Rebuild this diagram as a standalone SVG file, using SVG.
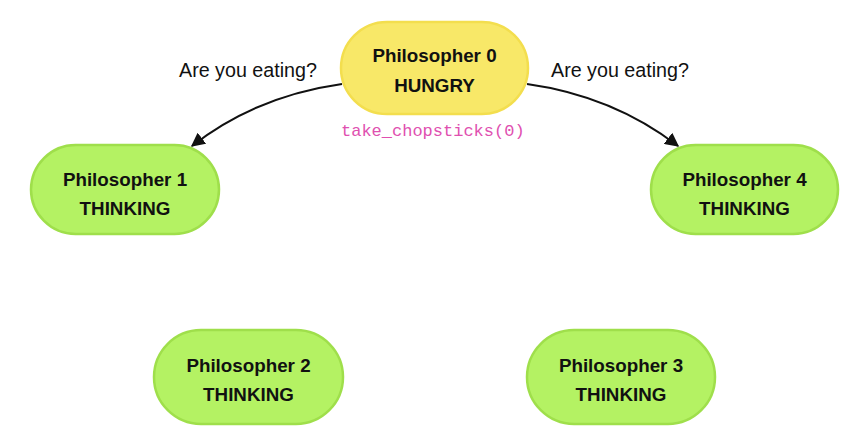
<svg xmlns="http://www.w3.org/2000/svg" width="854" height="443" viewBox="0 0 854 443">
<style>
.node rect{stroke-width:2.5}
.yellow rect{fill:#F8E868;stroke:#F3DE4E}
.green rect{fill:#B4F263;stroke:#9FDF4B}
.nt{font-family:"Liberation Sans",Arial,sans-serif;font-weight:bold;font-size:18.8px;fill:#111;text-anchor:middle}
.lbl{font-family:"Liberation Sans",Arial,sans-serif;font-size:19.7px;fill:#111}
.mono{font-family:"Liberation Mono","DejaVu Sans Mono",monospace;font-size:17px;fill:#E050B0}
.edge{fill:none;stroke:#111;stroke-width:2;marker-end:url(#arrow)}
</style>
<defs>
<marker id="arrow" viewBox="0 0 10 10" refX="9" refY="5" markerWidth="7" markerHeight="7" orient="auto" markerUnits="strokeWidth">
<path d="M0,0 L10,5 L0,10 z" fill="#111"/>
</marker>
</defs>
<rect width="854" height="443" fill="#fff"/>
<g id="connectors">
<path class="edge" d="M342,84 Q256,96 192,146"/>
<path class="edge" d="M527,84 Q613,96 678,146"/>
<text class="lbl" x="179" y="77">Are you eating?</text>
<text class="lbl" x="551" y="77">Are you eating?</text>
</g>
<g id="philosopher0" class="node yellow">
<rect x="341" y="22" width="187" height="92" rx="46"/>
<text class="nt" x="434.5" y="62">Philosopher 0</text>
<text class="nt" x="434.5" y="92">HUNGRY</text>
<text class="mono" x="341" y="136">take_chopsticks(0)</text>
</g>
<g id="philosopher1" class="node green">
<rect x="31" y="145" width="188" height="89" rx="44.5"/>
<text class="nt" x="125" y="186">Philosopher 1</text>
<text class="nt" x="125" y="215">THINKING</text>
</g>
<g id="philosopher4" class="node green">
<rect x="651" y="145" width="187" height="89" rx="44.5"/>
<text class="nt" x="744.5" y="186">Philosopher 4</text>
<text class="nt" x="744.5" y="215">THINKING</text>
</g>
<g id="philosopher2" class="node green">
<rect x="154" y="330" width="189" height="94" rx="47"/>
<text class="nt" x="248.5" y="372">Philosopher 2</text>
<text class="nt" x="248.5" y="401">THINKING</text>
</g>
<g id="philosopher3" class="node green">
<rect x="527" y="330" width="188" height="94" rx="47"/>
<text class="nt" x="621" y="372">Philosopher 3</text>
<text class="nt" x="621" y="401">THINKING</text>
</g>
</svg>
